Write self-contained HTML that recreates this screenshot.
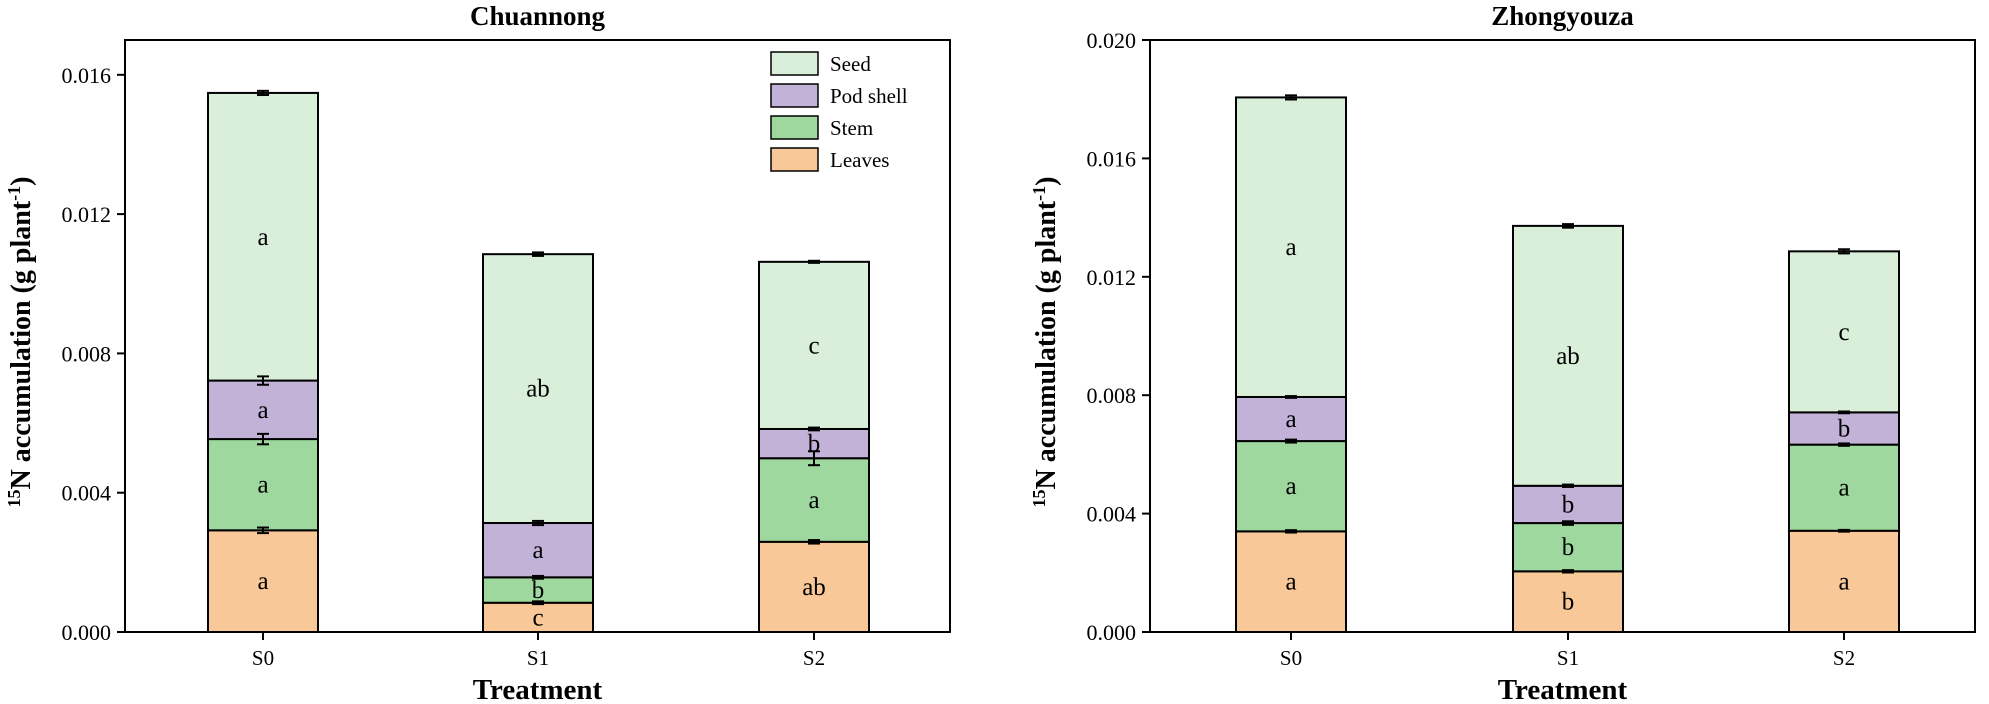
<!DOCTYPE html>
<html><head><meta charset="utf-8"><style>
body{margin:0;background:#fff}
svg{display:block;font-family:"Liberation Serif",serif}
</style></head><body>
<svg id="chart" width="1989" height="704"></svg>
<script>
const categories=["S0","S1","S2"];
const parts=["Leaves","Stem","Pod shell","Seed"];
const colors=["#f9c898","#9ed89e","#c2b2d8","#d9efda"];
const chLeaves=[0.00292,0.00084,0.00259];
const chStem=[0.00554,0.00157,0.00499];
const chPod=[0.00722,0.00313,0.00583];
const chSeed=[0.01548,0.01085,0.01063];
const chErr=[[0.00008,0.00004,0.00005],[0.00015,0.00004,0.0002],[0.00012,0.00006,0.00004],[0.00006,0.00005,0.00003]];
const chLetters=[["a","c","ab"],["a","b","a"],["a","a","b"],["a","ab","c"]];
const zyLeaves=[0.00340,0.00205,0.00342];
const zyStem=[0.00645,0.00368,0.00633];
const zyPod=[0.00794,0.00494,0.00742];
const zySeed=[0.01806,0.01372,0.01286];
const zyErr=[[0.00004,0.00004,0.00003],[0.00005,0.00006,0.00004],[0.00003,0.00004,0.00003],[0.00007,0.00006,0.00007]];
const zyLetters=[["a","b","a"],["a","b","a"],["a","b","b"],["a","ab","c"]];
const chTicks=["0.000","0.004","0.008","0.012","0.016"];
const zyTicks=["0.000","0.004","0.008","0.012","0.016","0.020"];

const svg=document.getElementById('chart');
const NS="http://www.w3.org/2000/svg";
function mk(tag,attrs,parent,text){const e=document.createElementNS(NS,tag);for(const k in attrs)e.setAttribute(k,attrs[k]);if(text!==undefined)e.textContent=text;(parent||svg).appendChild(e);return e;}

function panel(opt){
  const g=mk('g',{});
  
  
  const x0=opt.x0,x1=opt.x1,yTop=40,yBot=632;
  const ymax=opt.ymax;
  const Y=v=>yBot-(v/ymax)*(yBot-yTop);
  const X=i=>opt.centers[i];
  const bw=110;
  const tops=[opt.leaves,opt.stem,opt.pod,opt.seed];
  categories.forEach((c,i)=>{
    let prev=0;
    for(let s=0;s<4;s++){
      const top=tops[s][i];
      const r=mk('rect',{x:X(i)-bw/2,y:Y(top),width:bw,height:Y(prev)-Y(top),fill:colors[s],stroke:'#000','stroke-width':2},g);
      
      
      const t=mk('text',{x:X(i),y:(Y(top)+Y(prev))/2+8,'font-size':25,'text-anchor':'middle'},g,opt.letters[s][i]);
      
      
      prev=top;
    }
    for(let s=0;s<4;s++){
      const v=tops[s][i],e=opt.err[s][i];
      const eg=mk('g',{stroke:'#000','stroke-width':2},g);
      
      
      mk('line',{x1:X(i),x2:X(i),y1:Y(v+e),y2:Y(v-e)},eg);
      mk('line',{x1:X(i)-6,x2:X(i)+6,y1:Y(v+e),y2:Y(v+e)},eg);
      mk('line',{x1:X(i)-6,x2:X(i)+6,y1:Y(v-e),y2:Y(v-e)},eg);
    }
  });
  const f=mk('rect',{x:x0,y:yTop,width:x1-x0,height:yBot-yTop,fill:'none',stroke:'#000','stroke-width':2},g);
  
  
  opt.ticks.forEach(t=>{
    const y=Y(parseFloat(t));
    mk('line',{x1:x0-8,x2:x0,y1:y,y2:y,stroke:'#000','stroke-width':2},g);
    const tl=mk('text',{x:x0-14,y:y+8,'font-size':22,'text-anchor':'end'},g,t);
    
    
  });
  categories.forEach((c,i)=>{
    mk('line',{x1:X(i),x2:X(i),y1:yBot,y2:yBot+8,stroke:'#000','stroke-width':2},g);
    const tl=mk('text',{x:X(i),y:yBot+33,'font-size':21,'text-anchor':'middle'},g,c);
    
    
  });
  const ti=mk('text',{x:(x0+x1)/2,y:25,'font-size':27,'font-weight':'bold','text-anchor':'middle'},g,opt.title);
  
  
  const xt=mk('text',{x:(x0+x1)/2,y:699,'font-size':29,'font-weight':'bold','text-anchor':'middle'},g,'Treatment');
  
  
  const yt=mk('text',{transform:`translate(${opt.yTitleX},342) rotate(-90)`,'font-size':28,'font-weight':'bold','text-anchor':'middle'},g);
  
  
  mk('tspan',{'font-size':18,dy:-10},yt,'15');
  mk('tspan',{dy:10},yt,'N accumulation (g plant');
  mk('tspan',{'font-size':18,dy:-10},yt,'-1');
  mk('tspan',{dy:10},yt,')');
}
panel({name:'chuannong-panel',title:'Chuannong',x0:125,x1:950,ymax:0.017,centers:[263,538,814],leaves:chLeaves,stem:chStem,pod:chPod,seed:chSeed,err:chErr,letters:chLetters,ticks:chTicks,yTitleX:30});
panel({name:'zhongyouza-panel',title:'Zhongyouza',x0:1150,x1:1975,ymax:0.020,centers:[1291,1568,1844],leaves:zyLeaves,stem:zyStem,pod:zyPod,seed:zySeed,err:zyErr,letters:zyLetters,ticks:zyTicks,yTitleX:1055});

const lg=mk('g',{});


const legOrder=[3,2,1,0];
legOrder.forEach((s,k)=>{
  const y=52+k*32;
  const e=mk('g',{},lg);
  
  
  mk('rect',{x:771,y:y,width:47,height:23,fill:colors[s],stroke:'#000','stroke-width':1.5},e);
  mk('text',{x:830,y:y+19,'font-size':21},e,parts[s]);
});
</script>
</body></html>
